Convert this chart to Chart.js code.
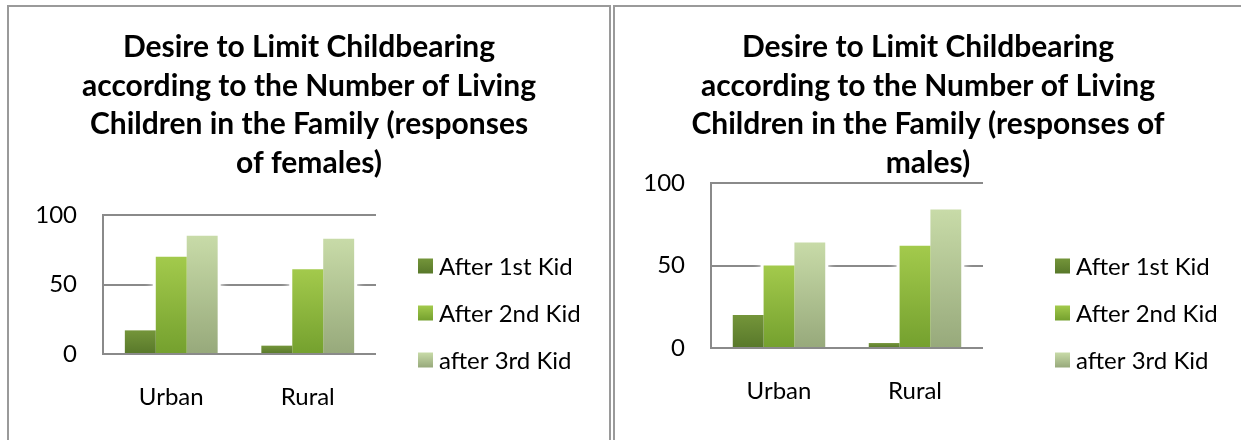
<!DOCTYPE html>
<html>
<head>
<meta charset="utf-8">
<script src="https://cdn.jsdelivr.net/npm/chart.js@4"></script>
<style>
  body { margin: 0; background: #fff; width: 1241px; height: 440px; overflow: hidden; position: relative; font-family: Lato, sans-serif; }
  .panel { position: absolute; top: 5px; height: 500px; border: 2px solid #9a9a9a; background: #fff; }
  #femalesPanel { left: 7px; width: 600px; }
  #malesPanel { left: 613px; width: 640px; }
  .wrap { position: absolute; left: 0; top: 0; height: 433px; }
  #femalesPanel .wrap { width: 600px; }
  #malesPanel .wrap { width: 626px; }
</style>
</head>
<body>
<div class="panel" id="femalesPanel"><div class="wrap"><canvas id="femalesChart"></canvas></div></div>
<div class="panel" id="malesPanel"><div class="wrap"><canvas id="malesChart"></canvas></div></div>

<script>
const categories = ['Urban', 'Rural'];
const seriesNames = ['After 1st Kid', 'After 2nd Kid', 'after 3rd Kid'];

// responses of females
const femalesAfter1st = [17, 6];
const femalesAfter2nd = [70, 61];
const femalesAfter3rd = [85, 83];

// responses of males
const malesAfter1st = [20, 3];
const malesAfter2nd = [50, 62];
const malesAfter3rd = [64, 84];

const yTicks = [0, 50, 100];

const femalesTitle = [
  'Desire to Limit Childbearing',
  'according to the Number of Living',
  'Children in the Family (responses',
  'of females)'
];
const malesTitle = [
  'Desire to Limit Childbearing',
  'according to the Number of Living',
  'Children in the Family (responses of',
  'males)'
];

// top / bottom colour of each series' gradient
const seriesColors = [
  ['#74953a', '#58782a'],
  ['#a3ca4c', '#74a02e'],
  ['#c8dba8', '#97a97b']
];

function barGradient(ctx, top, bottom, pair) {
  const g = ctx.createLinearGradient(0, top, 0, bottom);
  g.addColorStop(0, pair[0]);
  g.addColorStop(1, pair[1]);
  return g;
}

// white haze around the bars, hides the grid lines next to them
const barGlow = {
  id: 'barGlow',
  beforeDatasetsDraw(chart) {
    const ctx = chart.ctx;
    const area = chart.chartArea;
    ctx.save();
    ctx.beginPath();
    ctx.rect(area.left + 2, area.top - 2, area.right - area.left, area.bottom - area.top - 1);
    ctx.clip();
    ctx.fillStyle = '#fff';
    ctx.shadowColor = 'rgba(255,255,255,1)';
    ctx.shadowBlur = 8;
    chart.data.datasets.forEach((ds, i) => {
      chart.getDatasetMeta(i).data.forEach(bar => {
        const p = bar.getProps(['x', 'y', 'base', 'width'], true);
        ctx.fillRect(p.x - p.width / 2 - 3, p.y - 4, p.width + 6, p.base - p.y + 4);
      });
    });
    ctx.restore();
  }
};

// title lines and the legend on the right
const panelText = {
  id: 'panelText',
  afterDraw(chart, args, opts) {
    const ctx = chart.ctx;
    ctx.save();
    ctx.fillStyle = '#000';
    ctx.textAlign = 'center';
    ctx.textBaseline = 'middle';
    ctx.font = 'bold 30px Lato';
    opts.lines.forEach((line, i) => {
      ctx.fillText(line, chart.width / 2, opts.lineY[i]);
    });

    ctx.textAlign = 'left';
    ctx.font = '24px Lato';
    chart.data.datasets.forEach((ds, i) => {
      const cy = opts.legendY[i];
      ctx.fillStyle = barGradient(ctx, cy - 7.5, cy + 7.5, seriesColors[i]);
      ctx.fillRect(opts.legendX, cy - 7.5, 15, 15);
      ctx.fillStyle = '#000';
      ctx.fillText(ds.label, opts.legendX + 21, cy + 1);
    });
    ctx.restore();
  }
};

function makeChart(id, values, titleLines, geom) {
  const datasets = values.map((vals, i) => ({
    label: seriesNames[i],
    data: vals,
    backgroundColor: (c) => {
      const area = c.chart.chartArea;
      if (!area || c.parsed === undefined) return seriesColors[i][0];
      const y = c.chart.scales.y;
      return barGradient(c.chart.ctx, y.getPixelForValue(c.parsed.y), y.getPixelForValue(0), seriesColors[i]);
    },
    borderWidth: 0,
    categoryPercentage: 0.68,
    barPercentage: 1.0
  }));

  return new Chart(document.getElementById(id), {
    type: 'bar',
    data: { labels: categories, datasets: datasets },
    plugins: [barGlow, panelText],
    options: {
      responsive: true,
      maintainAspectRatio: false,
      animation: false,
      layout: { padding: geom.padding },
      plugins: {
        legend: { display: false },
        title: { display: false },
        tooltip: { enabled: false },
        panelText: { lines: titleLines, lineY: [40, 79, 117, 156], legendX: geom.legendX, legendY: [259, 306, 353] }
      },
      scales: {
        x: {
          grid: { display: false },
          border: { display: false },
          ticks: { color: '#000', font: { family: 'Lato', size: 24 }, padding: 21 },
          afterFit: (s) => { s.height = 60; }
        },
        y: {
          min: 0,
          max: 100,
          afterBuildTicks: (s) => { s.ticks = yTicks.map(v => ({ value: v })); },
          grid: { color: '#8a8a8a', lineWidth: 2, drawTicks: false },
          border: { display: true, color: '#8a8a8a', width: 2 },
          ticks: { color: '#000', font: { family: 'Lato', size: 24 }, padding: 26 },
          afterFit: (s) => { s.width = geom.yWidth; }
        }
      }
    }
  });
}

makeChart('femalesChart', [femalesAfter1st, femalesAfter2nd, femalesAfter3rd], femalesTitle, {
  padding: { top: 208, left: 0, right: 233, bottom: 26 },
  yWidth: 94,
  legendX: 409
});

makeChart('malesChart', [malesAfter1st, malesAfter2nd, malesAfter3rd], malesTitle, {
  padding: { top: 176, left: 0, right: 258, bottom: 32 },
  yWidth: 96,
  legendX: 440
});
</script>
</body>
</html>
